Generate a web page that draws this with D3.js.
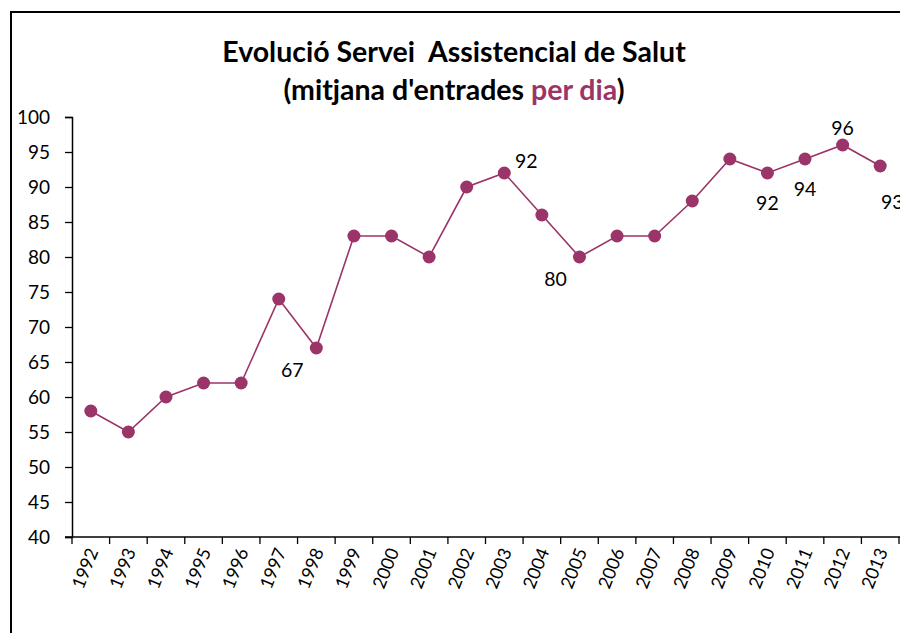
<!DOCTYPE html>
<html>
<head>
<meta charset="utf-8">
<script src="https://cdn.jsdelivr.net/npm/d3@7"></script>
<style>
  body { margin: 0; background: #fff; }
  svg { display: block; }
</style>
</head>
<body>
<script>
// data
var years = ["1992","1993","1994","1995","1996","1997","1998","1999","2000","2001","2002",
             "2003","2004","2005","2006","2007","2008","2009","2010","2011","2012","2013"];
var entrades = [58, 55, 60, 62, 62, 74, 67, 83, 83, 80, 90, 92, 86, 80, 83, 83, 88, 94, 92, 94, 96, 93];
var yTicks = [40, 45, 50, 55, 60, 65, 70, 75, 80, 85, 90, 95, 100];
// which points get a value label, and where it sits
var labelled = [
  {year: "1998", pos: "bl"}, {year: "2003", pos: "tr"}, {year: "2005", pos: "bl"},
  {year: "2010", pos: "b"},  {year: "2011", pos: "b"},  {year: "2012", pos: "t"},
  {year: "2013", pos: "br"}
];

var width = 900, height = 633;
var color = "#9b3468";
var margin = {left: 72, right: 1, top: 117, bottom: 96};

var svg = d3.select("body").append("svg").attr("width", width).attr("height", height)
  .style("font-family", "Lato, 'Open Sans', sans-serif");

// outer frame (runs off the right and bottom)
svg.append("path").attr("d", "M11,660 L11,12 L905,12")
  .attr("fill", "none").attr("stroke", "#000").attr("stroke-width", 2);

// title
var title = svg.append("text").attr("text-anchor", "middle").attr("font-weight", "bold")
  .attr("font-size", 28.5).attr("fill", "#000");
title.append("tspan").attr("x", 454).attr("y", 62).text("Evolució Servei\u00a0 Assistencial de Salut");
var t2 = title.append("tspan").attr("x", 454).attr("y", 100);
t2.append("tspan").text("(mitjana d'entrades ");
t2.append("tspan").attr("fill", color).text("per dia");
t2.append("tspan").text(")");

var x = d3.scaleBand().domain(years).range([margin.left, width - margin.right]);
var y = d3.scaleLinear().domain([40, 100]).range([height - margin.bottom, margin.top]);

// y axis
var yAxis = d3.axisLeft(y).tickValues(yTicks).tickSize(7).tickPadding(15);
var gy = svg.append("g").attr("transform", "translate(" + margin.left + ",0)").call(yAxis);
gy.select(".domain").attr("stroke-width", 1.5);
gy.selectAll(".tick line").attr("stroke-width", 1.3);
gy.selectAll("text").attr("font-size", 19).attr("fill", "#000")
  .attr("font-family", "Lato, 'Open Sans', sans-serif");

// x axis with ticks between categories
var gx = svg.append("g").attr("transform", "translate(0," + y(40) + ")");
gx.append("line").attr("x1", margin.left - 7).attr("x2", width).attr("y1", 0).attr("y2", 0)
  .attr("stroke", "#000").attr("stroke-width", 1.5);
var bounds = years.map(function(d){ return x(d); }).concat([x(years[years.length - 1]) + x.bandwidth()]);
gx.selectAll(".tk").data(bounds).enter().append("line")
  .attr("x1", function(d){ return d; }).attr("x2", function(d){ return d; })
  .attr("y1", 0).attr("y2", 7).attr("stroke", "#000").attr("stroke-width", 1.3);
gx.selectAll(".lbl").data(years).enter().append("text")
  .attr("transform", function(d){
    return "translate(" + (x(d) + x.bandwidth() / 2 + 2) + ",12) rotate(-68)";
  })
  .attr("text-anchor", "end").attr("dy", "0.35em")
  .attr("font-size", 18)
  .text(function(d){ return d; });

// line and markers
var pts = years.map(function(d, i){ return {year: d, v: entrades[i]}; });
var line = d3.line()
  .x(function(d){ return x(d.year) + x.bandwidth() / 2; })
  .y(function(d){ return y(d.v); });
svg.append("path").attr("d", line(pts)).attr("fill", "none")
  .attr("stroke", color).attr("stroke-width", 1.6);
svg.selectAll(".pt").data(pts).enter().append("circle")
  .attr("cx", function(d){ return x(d.year) + x.bandwidth() / 2; })
  .attr("cy", function(d){ return y(d.v); })
  .attr("r", 6.5).attr("fill", color);

// value labels
var off = {bl: [-24, 22], tr: [22, -12], b: [0, 30], t: [0, -17], br: [12, 36]};
svg.selectAll(".val").data(labelled).enter().append("text")
  .attr("x", function(d){ return x(d.year) + x.bandwidth() / 2 + off[d.pos][0]; })
  .attr("y", function(d){ return y(entrades[years.indexOf(d.year)]) + off[d.pos][1]; })
  .attr("text-anchor", "middle").attr("dy", "0.35em")
  .attr("font-size", 19.5).attr("fill", "#000")
  .text(function(d){ return entrades[years.indexOf(d.year)]; });
</script>
</body>
</html>
